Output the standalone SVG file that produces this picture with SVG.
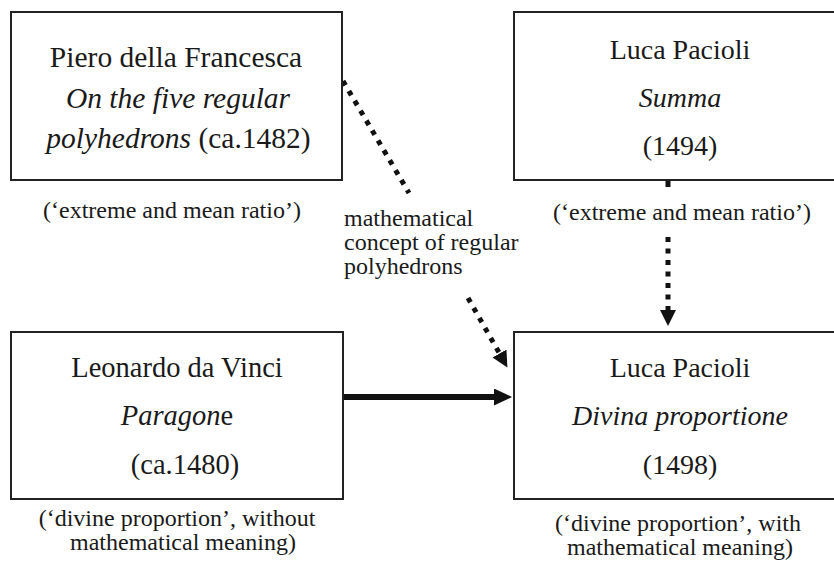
<svg xmlns="http://www.w3.org/2000/svg" width="834" height="562" viewBox="0 0 834 562">
<style>
.box{fill:#fff;stroke:#222;stroke-width:2}
text{font-family:"Liberation Serif","Times New Roman",serif;fill:#1a1a1a}
.t{font-size:28px;text-anchor:middle}
.s{font-size:24px;text-anchor:middle}
.l{font-size:24px}
.i{font-style:italic}
.dot{stroke:#111;stroke-width:5;stroke-dasharray:5 6.5;fill:none}
.solid{stroke:#111;stroke-width:6;fill:none}
</style>
<defs>
<marker id="ah" markerUnits="userSpaceOnUse" markerWidth="20" markerHeight="18" refX="0" refY="8.5" orient="auto">
<path d="M0,0 L18,8.5 L0,17 z" fill="#111"/>
</marker>
<marker id="ahs" markerUnits="userSpaceOnUse" markerWidth="20" markerHeight="18" refX="0" refY="8" orient="auto">
<path d="M0,0 L16,8 L0,16 z" fill="#111"/>
</marker>
</defs>
<rect x="0" y="0" width="834" height="562" fill="#fff"/>
<g id="connectors">
<line class="dot" x1="343" y1="81" x2="409" y2="193"/>
<line class="dot" x1="468" y1="298" x2="499.5" y2="353.5" marker-end="url(#ahs)"/>
<line class="dot" x1="668" y1="181" x2="668" y2="187" style="stroke-dasharray:none"/>
<line class="dot" x1="668" y1="237" x2="668" y2="310" marker-end="url(#ahs)"/>
<line class="solid" x1="343" y1="397" x2="494" y2="397" marker-end="url(#ah)"/>
</g>
<g id="node-piero">
<rect class="box" x="11" y="12" width="331" height="168"/>
<text class="t" x="176" y="67" style="font-size:29.5px">Piero della Francesca</text>
<text class="t i" x="178" y="107.5" style="font-size:29.5px">On the five regular</text>
<text class="t" x="178.5" y="148" style="font-size:29.5px"><tspan class="i">polyhedrons</tspan> (ca.1482)</text>
<text class="s" x="172" y="218">(‘extreme and mean ratio’)</text>
</g>
<g id="node-summa">
<rect class="box" x="514" y="12" width="334" height="168"/>
<text class="t" x="680" y="59">Luca Pacioli</text>
<text class="t i" x="680" y="107">Summa</text>
<text class="t" x="680" y="155">(1494)</text>
<text class="s" x="682" y="220">(‘extreme and mean ratio’)</text>
</g>
<g id="label-polyhedrons">
<text class="l" x="344" y="226">mathematical</text>
<text class="l" x="344" y="250">concept of regular</text>
<text class="l" x="344" y="274">polyhedrons</text>
</g>
<g id="node-leonardo">
<rect class="box" x="11" y="332" width="332" height="167"/>
<text class="t" x="177" y="377" style="font-size:28.5px">Leonardo da Vinci</text>
<text class="t" x="177" y="425" style="font-size:28.5px"><tspan class="i">Paragon</tspan>e</text>
<text class="t" x="185" y="474" style="font-size:28.5px">(ca.1480)</text>
<text class="s" x="177" y="526">(‘divine proportion’, without</text>
<text class="s" x="183" y="550">mathematical meaning)</text>
</g>
<g id="node-divina">
<rect class="box" x="514" y="332" width="334" height="167"/>
<text class="t" x="680" y="377">Luca Pacioli</text>
<text class="t i" x="680" y="425">Divina proportione</text>
<text class="t" x="680" y="474">(1498)</text>
<text class="s" x="678" y="531">(‘divine proportion’, with</text>
<text class="s" x="680" y="555">mathematical meaning)</text>
</g>
</svg>
